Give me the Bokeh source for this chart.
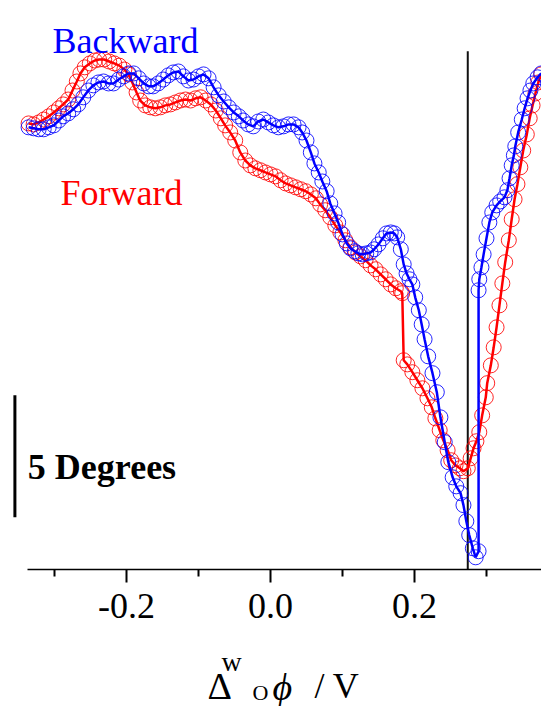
from bokeh.plotting import figure
from bokeh.layouts import column
from bokeh.models import Range1d, FixedTicker, PrintfTickFormatter, Label
from bokeh.embed import file_html
from bokeh.resources import INLINE

# ---- data (x: potential / V, y: angle / degrees, arbitrary offset) ----
backward_x = [-0.336, -0.329, -0.322, -0.315, -0.308, -0.301, -0.294, -0.288, -0.281, -0.274,
              -0.267, -0.260, -0.253, -0.246, -0.239, -0.232, -0.225, -0.218, -0.211, -0.204,
              -0.197, -0.190, -0.183, -0.176, -0.169, -0.163, -0.156, -0.149, -0.142, -0.135,
              -0.128, -0.121, -0.114, -0.107, -0.100, -0.093, -0.086, -0.079, -0.072, -0.065,
              -0.058, -0.051, -0.044, -0.038, -0.031, -0.024, -0.017, -0.010, -0.003, 0.004,
              0.011, 0.018, 0.025, 0.032, 0.039, 0.044, 0.050, 0.056, 0.061, 0.067,
              0.072, 0.078, 0.083, 0.089, 0.094, 0.100, 0.106, 0.111, 0.117, 0.122,
              0.128, 0.133, 0.139, 0.144, 0.150, 0.156, 0.161, 0.167, 0.172, 0.176,
              0.181, 0.185, 0.189, 0.193, 0.197, 0.201, 0.206, 0.210, 0.214, 0.219,
              0.225, 0.231, 0.236, 0.242, 0.247, 0.253, 0.258, 0.264, 0.268, 0.272,
              0.276, 0.281, 0.285, 0.289, 0.289, 0.290, 0.293, 0.296, 0.300, 0.304,
              0.308, 0.314, 0.319, 0.325, 0.329, 0.332, 0.335, 0.338, 0.340, 0.344,
              0.349, 0.353, 0.357, 0.361, 0.365, 0.371, 0.376]
backward_y = [18.13, 18.09, 18.05, 18.05, 18.13, 18.21, 18.41, 18.58, 18.70, 18.87,
              19.07, 19.36, 19.64, 19.85, 19.97, 20.01, 19.93, 19.93, 20.09, 20.22,
              20.34, 20.34, 20.14, 19.93, 19.81, 19.81, 19.93, 20.09, 20.26, 20.38,
              20.42, 20.22, 20.05, 20.09, 20.22, 20.30, 20.14, 19.77, 19.44, 19.19,
              18.95, 18.74, 18.58, 18.41, 18.25, 18.17, 18.37, 18.45, 18.33, 18.21,
              18.13, 18.17, 18.25, 18.25, 18.13, 17.92, 17.59, 17.10, 16.65, 16.28,
              15.91, 15.51, 15.01, 14.60, 14.23, 13.74, 13.37, 13.17, 13.05, 12.96,
              12.92, 12.96, 13.00, 13.13, 13.33, 13.58, 13.78, 13.82, 13.78, 13.62,
              13.13, 12.51, 12.14, 11.90, 11.69, 11.16, 10.63, 10.05, 9.44, 8.74,
              8.05, 7.27, 6.24, 5.22, 4.40, 3.78, 3.41, 3.13, 2.64, 1.98,
              1.41, 0.87, 0.50, 0.75, 11.45, 11.90, 12.39, 12.92, 13.58, 14.23,
              14.64, 14.93, 15.09, 15.26, 15.55, 16.04, 16.57, 16.98, 17.35, 17.92,
              18.45, 18.91, 19.32, 19.64, 19.93, 20.18, 20.34]

forward_x = [-0.336, -0.329, -0.322, -0.315, -0.308, -0.301, -0.294, -0.288, -0.281, -0.275,
             -0.269, -0.264, -0.258, -0.251, -0.244, -0.238, -0.231, -0.224, -0.217, -0.210,
             -0.203, -0.197, -0.192, -0.186, -0.181, -0.174, -0.167, -0.160, -0.153, -0.146,
             -0.139, -0.132, -0.125, -0.118, -0.111, -0.104, -0.097, -0.090, -0.083, -0.076,
             -0.069, -0.063, -0.056, -0.049, -0.042, -0.035, -0.028, -0.021, -0.014, -0.007,
             0.000, 0.007, 0.014, 0.021, 0.028, 0.035, 0.042, 0.049, 0.056, 0.063,
             0.069, 0.076, 0.083, 0.090, 0.097, 0.104, 0.111, 0.118, 0.125, 0.132,
             0.139, 0.146, 0.153, 0.160, 0.167, 0.174, 0.181, 0.183, 0.185, 0.190,
             0.197, 0.204, 0.211, 0.218, 0.224, 0.229, 0.235, 0.240, 0.246, 0.251,
             0.257, 0.263, 0.268, 0.274, 0.278, 0.282, 0.286, 0.290, 0.294, 0.299,
             0.301, 0.306, 0.310, 0.314, 0.318, 0.322, 0.326, 0.331, 0.335, 0.339,
             0.343, 0.347, 0.351, 0.356, 0.360, 0.364, 0.368, 0.372, 0.376]
forward_y = [18.29, 18.25, 18.33, 18.45, 18.58, 18.74, 18.91, 19.07, 19.27, 19.64,
             20.01, 20.34, 20.59, 20.75, 20.87, 20.91, 20.91, 20.83, 20.75, 20.66,
             20.50, 20.30, 19.97, 19.56, 19.23, 19.03, 18.95, 18.91, 18.95, 19.03,
             19.07, 19.15, 19.23, 19.27, 19.23, 19.32, 19.36, 19.23, 19.07, 18.82,
             18.50, 18.21, 17.92, 17.59, 17.10, 16.77, 16.57, 16.45, 16.37, 16.28,
             16.20, 16.12, 15.96, 15.83, 15.75, 15.67, 15.59, 15.51, 15.38, 15.22,
             14.97, 14.73, 14.44, 14.11, 13.82, 13.50, 13.21, 13.00, 12.84, 12.68,
             12.47, 12.31, 12.10, 11.90, 11.69, 11.53, 11.41, 11.33, 8.58, 8.41,
             8.09, 7.76, 7.43, 7.02, 6.65, 6.20, 5.71, 5.30, 4.89, 4.48,
             4.27, 4.15, 4.03, 4.15, 4.56, 4.97, 5.26, 5.63, 6.32, 7.06,
             7.64, 8.37, 9.11, 9.93, 10.83, 11.73, 12.60, 13.50, 14.36, 15.18,
             15.80, 16.49, 17.18, 17.84, 18.50, 19.03, 19.52, 19.97, 20.30]

major_ticks = [-0.2, 0.0, 0.2]
minor_ticks = [-0.3, -0.1, 0.1, 0.3]
axis_span = (-0.3375, 0.3764)   # extent of the drawn x axis (V)
marker_potential = 0.274        # vertical reference line (V)
marker_top = 21.25              # top of that line (deg)
scale_bar_x = -0.355
scale_bar_bottom = 2.14
scale_bar_degrees = 5

SERIF = "Liberation Serif"

p = figure(width=541, height=640,
           x_range=Range1d(-0.375, 0.3764), y_range=Range1d(0, 23.33),
           output_backend="svg", toolbar_location=None, y_axis_location=None,
           min_border_left=0, min_border_right=0, min_border_top=0, min_border_bottom=71)
p.xgrid.visible = False
p.ygrid.visible = False
p.outline_line_color = None

ax = p.xaxis[0]
ax.bounds = axis_span
ax.ticker = FixedTicker(ticks=major_ticks, minor_ticks=minor_ticks)
ax.formatter = PrintfTickFormatter(format="%.1f")
ax.axis_line_width = 1.5
ax.axis_line_color = "black"
ax.major_tick_in = 0
ax.major_tick_out = 13
ax.minor_tick_in = 0
ax.minor_tick_out = 7
ax.major_tick_line_width = 2
ax.minor_tick_line_width = 2
ax.major_tick_line_color = "black"
ax.minor_tick_line_color = "black"
ax.major_label_text_font = SERIF
ax.major_label_text_font_size = "36px"
ax.major_label_text_color = "black"
ax.major_label_standoff = 11

# vertical reference line
p.segment(x0=[marker_potential], y0=[0], x1=[marker_potential], y1=[marker_top],
          line_color="#111111", line_width=2)

# scale bar (5 degrees)
p.segment(x0=[scale_bar_x], y0=[scale_bar_bottom], x1=[scale_bar_x],
          y1=[scale_bar_bottom + scale_bar_degrees], line_color="black", line_width=3)

# curves
p.line(forward_x, forward_y, line_color="red", line_width=2.5)
p.scatter(forward_x, forward_y, marker="circle", size=15, fill_color=None,
          line_color="red", line_width=1, line_alpha=0.85)
p.line(backward_x, backward_y, line_color="blue", line_width=2.5)
p.scatter(backward_x, backward_y, marker="circle", size=15, fill_color=None,
          line_color="blue", line_width=1, line_alpha=0.85)


def lab(fig, x, y, text, size, color="black", style="normal", units="data"):
    fig.add_layout(Label(x=x, y=y, x_units=units, y_units=units, text=text,
                         text_font=SERIF, text_font_size=size, text_color=color,
                         text_font_style=style, text_baseline="alphabetic",
                         text_align="left"))

lab(p, -0.337, 4.20, "5 Degrees", "36px", style="bold")
lab(p, -0.3028, 21.65, "Backward", "36px", color="blue")
lab(p, -0.2917, 15.42, "Forward", "36px", color="red")

# axis title  Δ^w_O ϕ / V  (in a strip below the axis)
t = figure(width=541, height=66, x_range=Range1d(0, 541), y_range=Range1d(0, 66),
           output_backend="svg", toolbar_location=None,
           x_axis_location=None, y_axis_location=None,
           min_border_left=0, min_border_right=0, min_border_top=0, min_border_bottom=0)
t.xgrid.visible = False
t.ygrid.visible = False
t.outline_line_color = None

lab(t, 207, 21, "Δ", "38px", units="screen")
lab(t, 221, 45, "w", "28px", units="screen")
lab(t, 252, 14, "O", "22px", units="screen")
lab(t, 272, 20, "ϕ", "38px", style="italic", units="screen")
lab(t, 314, 21, "/ V", "36px", units="screen")

layout = column(p, t, spacing=0)
open("out.html", "w").write(file_html(layout, INLINE))
